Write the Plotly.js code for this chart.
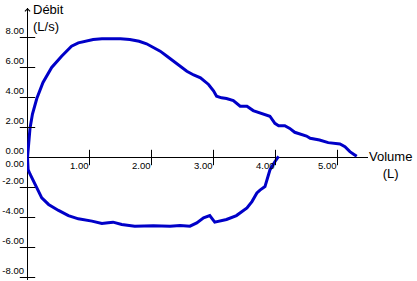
<!DOCTYPE html>
<html>
<head>
<meta charset="utf-8">
<script src="https://cdn.plot.ly/plotly-3.0.1.min.js"></script>
<style>html,body{margin:0;padding:0;background:#fff;}#chart{width:417px;height:281px;}</style>
</head>
<body>
<div id="chart"></div>
<script>
// Expiratory limb (upper): volume (L) and flow (L/s)
const expVolume = [0, 0.01, 0.02, 0.04, 0.08, 0.15, 0.25, 0.39, 0.55, 0.71, 0.82, 0.95, 1.06, 1.2, 1.33, 1.5, 1.65, 1.8, 1.92, 2.03, 2.14, 2.25, 2.35, 2.46, 2.57, 2.68, 2.79, 2.92, 3.0, 3.05, 3.13, 3.21, 3.32, 3.43, 3.54, 3.64, 3.75, 3.91, 3.99, 4.05, 4.15, 4.23, 4.31, 4.4, 4.5, 4.56, 4.71, 4.85, 4.95, 5.04, 5.12, 5.2, 5.26, 5.31];
const expFlow   = [0, 0.6, 1.1, 1.93, 2.9, 3.93, 5.0, 6.0, 6.75, 7.42, 7.64, 7.78, 7.87, 7.92, 7.93, 7.92, 7.87, 7.75, 7.58, 7.35, 7.09, 6.75, 6.42, 6.08, 5.75, 5.5, 5.31, 4.87, 4.45, 4.09, 3.98, 3.93, 3.8, 3.42, 3.42, 3.13, 2.98, 2.75, 2.28, 2.12, 2.12, 1.94, 1.68, 1.55, 1.43, 1.28, 1.17, 0.99, 0.93, 0.9, 0.72, 0.39, 0.22, 0.08];
// Inspiratory limb (lower)
const inspVolume = [0, 0.0, 0.01, 0.04, 0.07, 0.15, 0.23, 0.34, 0.5, 0.66, 0.82, 1.04, 1.2, 1.3, 1.38, 1.52, 1.73, 2.03, 2.3, 2.46, 2.62, 2.73, 2.84, 2.94, 3.02, 3.21, 3.37, 3.54, 3.62, 3.7, 3.75, 3.83, 3.86, 3.91, 3.99, 4.02, 4.05];
const inspFlow   = [0, -0.13, -0.8, -1.1, -1.36, -2.0, -2.69, -3.13, -3.53, -3.87, -4.09, -4.24, -4.4, -4.35, -4.31, -4.47, -4.58, -4.55, -4.58, -4.53, -4.58, -4.36, -4.02, -3.87, -4.31, -4.13, -3.87, -3.36, -2.94, -2.36, -2.17, -1.94, -1.5, -0.83, -0.28, -0.1, 0.08];

// Axis ticks and labels
const xTickVals = [1, 2, 3, 4, 5];
const xTickText = ['1.00', '2.00', '3.00', '4.00', '5.00'];
const yTickVals = [8, 6, 4, 2, 0, -2, -4, -6, -8];
const yTickText = ['8.00', '6.00', '4.00', '2.00', '0.00', '-2.00', '-4.00', '-6.00', '-8.00'];
const yTickMarks = [8, 6, 4, 2, -2, -4, -6, -8];
const yLowerZeroVal = [0];
const yLowerZeroText = ['0.00'];

const lineColor = '#0000C8';
const tickFont = {family: 'Liberation Sans, Arial, sans-serif', size: 9.5, color: '#000'};

const traces = [
  {x: expVolume, y: expFlow, mode: 'lines', line: {color: lineColor, width: 3}, cliponaxis: false, hoverinfo: 'skip'},
  {x: inspVolume, y: inspFlow, mode: 'lines', line: {color: lineColor, width: 3}, cliponaxis: false, hoverinfo: 'skip'},
  {x: xTickVals, y: xTickVals.map(() => 0), mode: 'markers', cliponaxis: false, hoverinfo: 'skip',
   marker: {symbol: 'line-ns', size: 11, line: {width: 1, color: '#000'}}},
  {x: yTickMarks.map(() => 0), y: yTickMarks, mode: 'markers', cliponaxis: false, hoverinfo: 'skip',
   marker: {symbol: 'line-ew', size: 11, line: {width: 1, color: '#000'}}}
];

const layout = {
  width: 417, height: 281,
  margin: {l: 27, r: 49, t: 8, b: 1, pad: 0},
  paper_bgcolor: '#fff', plot_bgcolor: '#fff',
  showlegend: false,
  font: tickFont,
  xaxis: {
    range: [-0.008, 5.492], anchor: 'free', position: 0.45037,
    tickvals: xTickVals, ticktext: xTickText, tickfont: tickFont,
    ticks: '', showgrid: false, showline: false,
    zeroline: true, zerolinecolor: '#000', zerolinewidth: 1,
    ticklabelposition: 'outside left', ticklabeloverflow: 'allow',
    ticklabelshift: -1, ticklabelstandoff: 1
  },
  yaxis: {
    range: [-8.167, 9.967],
    tickvals: yTickVals, ticktext: yTickText, tickfont: tickFont,
    ticks: '', showgrid: false, showline: false,
    zeroline: true, zerolinecolor: '#000', zerolinewidth: 1,
    ticklabelposition: 'outside top', ticklabeloverflow: 'allow',
    ticklabelstandoff: 2
  },
  yaxis2: {
    range: [-8.167, 9.967], overlaying: 'y', side: 'left', anchor: 'x',
    tickvals: yLowerZeroVal, ticktext: yLowerZeroText, tickfont: tickFont,
    ticks: '', showgrid: false, showline: false, zeroline: false,
    ticklabelposition: 'outside bottom', ticklabeloverflow: 'allow',
    ticklabelstandoff: 2
  },
  annotations: [
    {x: 0, y: 9.967, xref: 'x', yref: 'y', ax: 0, ay: 14, axref: 'pixel', ayref: 'pixel',
     showarrow: true, arrowhead: 4, arrowsize: 1, arrowwidth: 1, arrowcolor: '#000', text: ''},
    {x: 0, xref: 'paper', y: 1, yref: 'paper', xanchor: 'left', yanchor: 'top', xshift: 4, yshift: 8,
     align: 'left', showarrow: false, text: 'Débit<br>(L/s)',
     font: {family: 'Liberation Sans, Arial, sans-serif', size: 13, color: '#000'}},
    {x: 1, xref: 'paper', y: 0.478, yref: 'paper', xanchor: 'left', yanchor: 'top', xshift: -1, yshift: 3,
     align: 'center', showarrow: false, text: 'Volume<br>(L)',
     font: {family: 'Liberation Sans, Arial, sans-serif', size: 13, color: '#000'}}
  ]
};

// a dummy trace so yaxis2 is drawn
traces.push({x: [0], y: [0], yaxis: 'y2', mode: 'markers', marker: {opacity: 0}, hoverinfo: 'skip'});

Plotly.newPlot('chart', traces, layout, {staticPlot: true, displayModeBar: false});
</script>
</body>
</html>
